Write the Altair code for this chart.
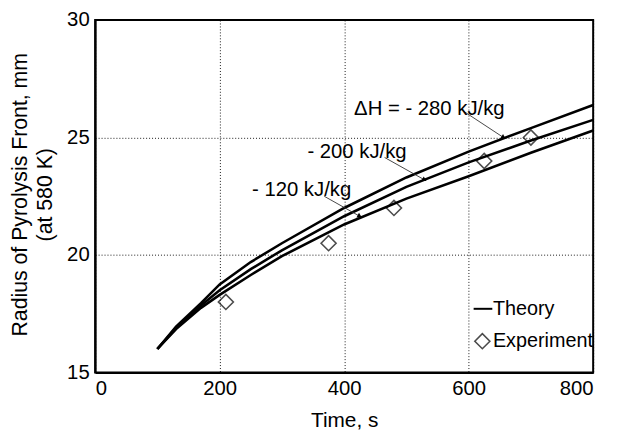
import math
import altair as alt
import pandas as pd

# ---------------- data ----------------
t_theory = [100, 130, 170, 200, 250, 300, 400, 500, 600, 700, 800]
r_280 = [16.0, 16.95, 17.95, 18.75, 19.7, 20.5, 22.0, 23.3, 24.4, 25.4, 26.38]
r_200 = [16.0, 16.9, 17.85, 18.5, 19.4, 20.2, 21.65, 22.9, 23.94, 24.87, 25.75]
r_120 = [16.0, 16.85, 17.75, 18.3, 19.15, 19.95, 21.3, 22.4, 23.35, 24.35, 25.3]

t_exp = [210, 375, 480, 625, 700]
r_exp = [18.0, 20.5, 22.0, 24.0, 25.0]

ann_text = ["\u0394H = - 280 kJ/kg", "- 200 kJ/kg", "- 120 kJ/kg"]
ann_t = [416, 341, 252]
ann_r = [26.2, 24.4, 22.75]
arrow_t1 = [590, 465, 368]
arrow_r1 = [26.15, 24.15, 22.5]
arrow_t2 = [656, 529, 425]
arrow_r2 = [25.0, 23.2, 21.65]

legend_labels = ["Theory", "Experiment"]

# ---------------- layout ----------------
W, H = 503, 356
XMAX, YMIN, YMAX = 800, 15, 30
FONT = "Liberation Sans"

theory = pd.DataFrame(
    [{"t": t, "r": r, "series": s}
     for s, rs in (("280", r_280), ("200", r_200), ("120", r_120))
     for t, r in zip(t_theory, rs)]
)
exp = pd.DataFrame({"t": t_exp, "r": r_exp})

px_x = W / XMAX
px_y = H / (YMAX - YMIN)
angles = [math.degrees(math.atan2(-(b2 - b1) * px_y, (a2 - a1) * px_x))
          for a1, b1, a2, b2 in zip(arrow_t1, arrow_r1, arrow_t2, arrow_r2)]
arrows = pd.DataFrame({"t1": arrow_t1, "r1": arrow_r1, "t2": arrow_t2,
                       "r2": arrow_r2, "ang": angles})
ann = pd.DataFrame({"text": ann_text, "t": ann_t, "r": ann_r})

xs = alt.Scale(domain=[0, XMAX], nice=False, zero=False)
ys = alt.Scale(domain=[YMIN, YMAX], nice=False, zero=False)

xaxis = alt.Axis(values=[0, 200, 400, 600, 800], title="Time, s",
                 titleY=55, titleBaseline="alphabetic", titleFontSize=21)
yaxis = alt.Axis(values=[15, 20, 25, 30],
                 title=["Radius of Pyrolysis Front, mm", "(at 580 K)"],
                 titleX=-64, titleY=H / 2 - 2, titleBaseline="bottom",
                 titleLineHeight=25, titleFontSize=21.5)

lines = alt.Chart(theory).mark_line(color="black", strokeWidth=2.6).encode(
    x=alt.X("t:Q", scale=xs, axis=xaxis),
    y=alt.Y("r:Q", scale=ys, axis=yaxis),
    detail="series:N",
)

points = alt.Chart(exp).mark_point(
    shape="diamond", size=230, filled=False, color="black", strokeWidth=1.6
).encode(x="t:Q", y="r:Q")

arrow_lines = alt.Chart(arrows).mark_rule(color="#333333", strokeWidth=0.9).encode(
    x="t1:Q", y="r1:Q", x2="t2:Q", y2="r2:Q"
)
arrow_heads = alt.Chart(arrows).mark_point(
    shape="triangle-right", size=28, filled=True, color="black", opacity=1
).encode(x="t2:Q", y="r2:Q", angle=alt.Angle("ang:Q", scale=None))

ann_marks = alt.Chart(ann).mark_text(
    align="left", baseline="middle", font=FONT, fontSize=20.5, color="black"
).encode(x="t:Q", y="r:Q", text="text:N")

# legend (drawn inside the plot, bottom right)
leg_line = alt.Chart(pd.DataFrame({"t": [608], "t2": [638], "r": [17.71]})).mark_rule(
    color="black", strokeWidth=2
).encode(x="t:Q", x2="t2:Q", y="r:Q")
leg_diamond = alt.Chart(pd.DataFrame({"t": [622], "r": [16.33]})).mark_point(
    shape="diamond", size=230, filled=False, color="black", strokeWidth=1.6
).encode(x="t:Q", y="r:Q")
leg_text = alt.Chart(pd.DataFrame({"t": [639, 639], "r": [17.71, 16.33],
                                   "label": legend_labels})).mark_text(
    align="left", baseline="middle", font=FONT, fontSize=20, color="black"
).encode(x="t:Q", y="r:Q", text="label:N")

chart = alt.layer(
    lines, arrow_lines, arrow_heads, points, ann_marks, leg_line, leg_diamond, leg_text
).properties(
    width=W, height=H,
    autosize=alt.AutoSizeParams(type="none"),
    padding={"left": 88, "top": 10, "right": 16, "bottom": 60},
    background="white",
).configure_view(
    stroke="black", strokeWidth=2
).configure_axis(
    domainColor="black", domainWidth=2,
    ticks=False,
    labelFont=FONT, labelFontSize=20.5, labelColor="black", labelPadding=6,
    titleFont=FONT, titleFontSize=20, titleColor="black", titleFontWeight="normal",
    grid=True, gridColor="black", gridDash=[1, 2], gridWidth=1, gridOpacity=0.9,
)

chart.save("out.html", embed_options={"renderer": "svg", "actions": False})
